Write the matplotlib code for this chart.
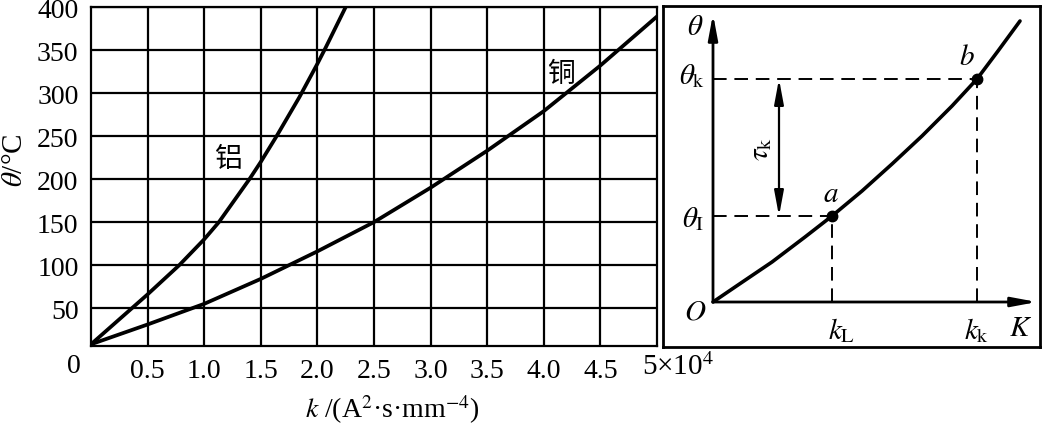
import matplotlib
matplotlib.use("Agg")
import matplotlib.pyplot as plt

plt.rcParams['font.family'] = ['Liberation Serif', 'Noto Sans CJK SC', 'DejaVu Sans']
plt.rcParams['mathtext.fontset'] = 'stix'

# ---------------- data (left chart) ----------------
al_k = [0, 0.5, 0.78, 1.0, 1.13, 1.4, 1.5, 1.64, 1.84, 2.0, 2.07, 2.25]
al_theta = [8, 66, 100, 130, 150, 200, 220, 250, 295, 334, 352, 400]
cu_k = [0, 0.5, 1.0, 1.5, 2.0, 2.5, 3.0, 3.5, 4.0, 4.5, 5.0]
cu_theta = [8, 31, 55, 84, 116, 150, 190, 233, 279, 332, 389]
x_ticks = [0.5, 1.0, 1.5, 2.0, 2.5, 3.0, 3.5, 4.0, 4.5]
x_ticklabels = ['0.5', '1.0', '1.5', '2.0', '2.5', '3.0', '3.5', '4.0', '4.5']
y_ticks = [50, 100, 150, 200, 250, 300, 350, 400]
y_ticklabels = ['50', '100', '150', '200', '250', '300', '350', '400']
al_label = '铝'
cu_label = '铜'

# ---------------- data (right schematic) ----------------
sk_x = [0, 25, 59, 92, 119, 149, 179, 209, 239, 264, 285, 307]
sk_y = [0, 17, 40, 65, 86, 111, 138, 166, 196, 223, 251, 281]
pt_a = (119, 86)
pt_b = (264, 223)

W, H = 1042, 427
fig = plt.figure(figsize=(W / 100, H / 100), dpi=100)

FS = 20
LW_GRID = 1.6

# ---------------- left axes ----------------
L, R, T, B = 91, 657, 8, 347
ax = fig.add_axes([L / W, 1 - B / H, (R - L) / W, (B - T) / H])
ax.set_xlim(0, 5)
ax.set_ylim(6, 400)
ax.set_xticks(x_ticks)
ax.set_xticklabels(x_ticklabels)
ax.set_yticks(y_ticks)
ax.set_yticklabels(y_ticklabels)
ax.tick_params(length=0, labelsize=FS, pad=9)
ax.grid(True, color='black', lw=LW_GRID)
for s in ax.spines.values():
    s.set_linewidth(LW_GRID)
ax.plot(al_k, al_theta, color='black', lw=2.7, solid_capstyle='round', solid_joinstyle='round')
ax.plot(cu_k, cu_theta, color='black', lw=2.7, solid_capstyle='round', solid_joinstyle='round')
ax.text(1.22, 224, al_label, fontsize=FS, family=['Noto Sans CJK SC'], ha='center', va='center')
ax.text(4.15, 323, cu_label, fontsize=FS, family=['Noto Sans CJK SC'], ha='center', va='center')

# extra axis labels
fig.text(74 / W, 1 - 367 / H, '0', fontsize=FS, ha='center', va='center')
fig.text(642 / W, 1 - 367 / H, '5×10$^4$', fontsize=21, ha='left', va='center')
fig.text(392 / W, 1 - 410 / H, '$k$ /(A$^2$·s·mm$^{-4}$)', fontsize=FS, ha='center', va='center')
fig.text(2 / W, 1 - 160 / H, r'$\theta$/°C', fontsize=21, rotation=90, ha='left', va='center')

# ---------------- right schematic ----------------
RL, RR, RT, RB = 663, 1040, 7, 348
ox, oy = 713, 303
ax2 = fig.add_axes([RL / W, 1 - RB / H, (RR - RL) / W, (RB - RT) / H])
ax2.set_xlim(RL - ox, RR - ox)
ax2.set_ylim(oy - RB, oy - RT)
ax2.set_xticks([])
ax2.set_yticks([])
for s in ax2.spines.values():
    s.set_linewidth(2.0)

arrow_kw = dict(arrowstyle='-|>,head_length=1.5,head_width=0.28', lw=2.0, color='black',
                mutation_scale=10, shrinkA=0, shrinkB=0)
ax2.annotate('', xy=(0, 288), xytext=(0, 0), arrowprops=arrow_kw)
ax2.annotate('', xy=(324, 0), xytext=(0, 0), arrowprops=arrow_kw)

dash = (0, (7, 4))
ax2.plot([0, pt_b[0]], [pt_b[1], pt_b[1]], color='black', lw=1.4, ls=dash)
ax2.plot([0, pt_a[0]], [pt_a[1], pt_a[1]], color='black', lw=1.4, ls=dash)
ax2.plot([pt_a[0], pt_a[0]], [0, pt_a[1]], color='black', lw=1.4, ls=dash)
ax2.plot([pt_b[0], pt_b[0]], [0, pt_b[1]], color='black', lw=1.4, ls=dash)

dbl_kw = dict(arrowstyle='<|-|>,head_length=1.5,head_width=0.28', lw=1.6, color='black',
              mutation_scale=10, shrinkA=0, shrinkB=0)
ax2.annotate('', xy=(66, pt_b[1]), xytext=(66, pt_a[1]), arrowprops=dbl_kw)

ax2.plot(sk_x, sk_y, color='black', lw=2.6, solid_capstyle='round', solid_joinstyle='round')
ax2.plot([pt_a[0], pt_b[0]], [pt_a[1], pt_b[1]], ls='none', marker='o', ms=7.5, color='black')

ax2.text(-18, 275, r'$\theta$', fontsize=21, ha='center', va='center')
ax2.text(-8, 227, r'$\theta_{\mathrm{k}}$', fontsize=21, ha='right', va='center')
ax2.text(-9, 84, r'$\theta_{\mathrm{I}}$', fontsize=21, ha='right', va='center')
ax2.text(-18, -10, r'$O$', fontsize=21, ha='center', va='center')
ax2.text(118, 108, r'$a$', fontsize=21, ha='center', va='center')
ax2.text(254, 245, r'$b$', fontsize=21, ha='center', va='center')
ax2.text(48, 154, r'$\tau_{\mathrm{k}}$', fontsize=21, rotation=90, ha='center', va='center')
ax2.text(129, -13, r'$k_{\mathrm{L}}$', fontsize=21, ha='center', va='top')
ax2.text(264, -13, r'$k_{\mathrm{k}}$', fontsize=21, ha='center', va='top')
ax2.text(308, -13, r'$K$', fontsize=21, ha='center', va='top')

fig.savefig('out.png', dpi=100)
